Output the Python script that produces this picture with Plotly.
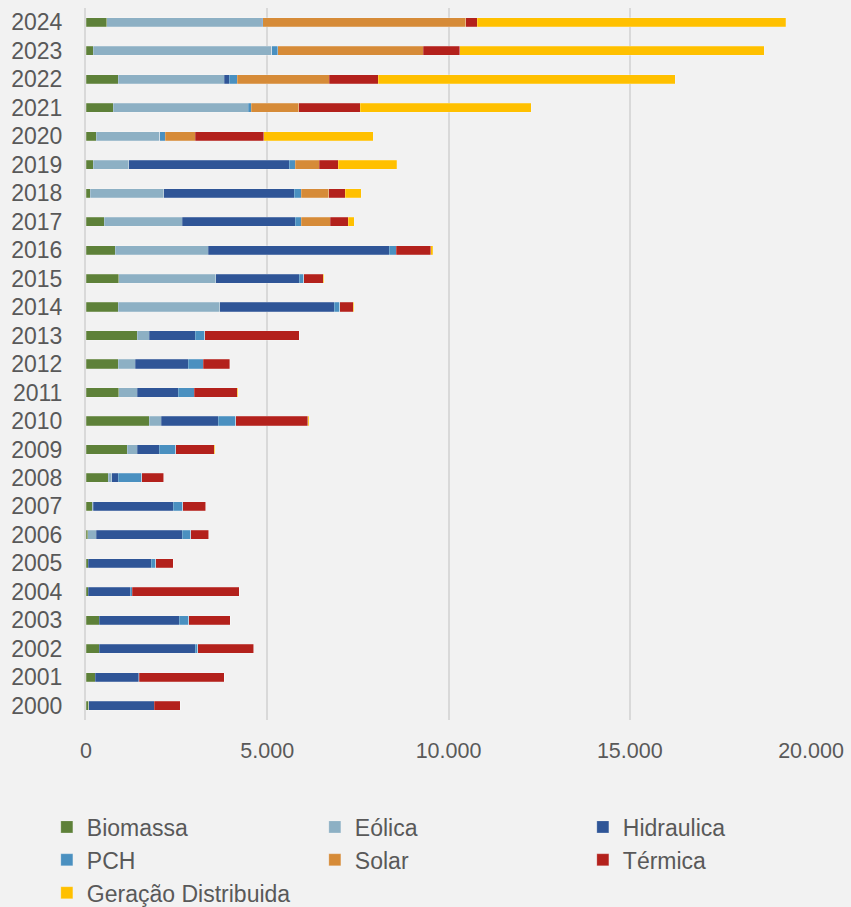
import plotly.graph_objects as go

years = [str(y) for y in range(2000, 2025)]

biomassa = [74, 257, 359, 359, 64, 64, 55, 175, 607, 1140, 1738, 910, 892, 1416, 892, 910, 800, 497, 120, 202, 285, 754, 892, 200, 570]
eolica = [0, 0, 0, 0, 0, 0, 221, 25, 101, 276, 331, 497, 469, 322, 2795, 2676, 2566, 2160, 2023, 984, 1756, 3724, 2915, 4930, 4270]
hidraulica = [1811, 1196, 2657, 2216, 1150, 1729, 2381, 2207, 184, 598, 1582, 1140, 1462, 1269, 3164, 2299, 4993, 3109, 3595, 4414, 0, 0, 147, 0, 15]
pch = [0, 10, 64, 266, 55, 129, 230, 258, 644, 460, 478, 442, 405, 267, 147, 120, 202, 174, 193, 166, 148, 83, 212, 165, 25]
solar = [0, 0, 0, 0, 0, 0, 0, 0, 0, 0, 0, 0, 0, 0, 0, 0, 0, 791, 772, 662, 818, 1306, 2547, 4010, 5590]
termica = [708, 2354, 1545, 1141, 2952, 487, 497, 643, 607, 1066, 1995, 1186, 744, 2602, 377, 533, 947, 506, 442, 524, 1903, 1701, 1351, 1000, 320]
geracao_dist = [0, 0, 0, 0, 0, 0, 0, 0, 0, 10, 15, 10, 10, 10, 10, 15, 55, 156, 450, 1618, 3016, 4708, 8194, 8405, 8515]

series = [
    ("Biomassa", biomassa, "#5E8139"),
    ("Eólica", eolica, "#8DB0C4"),
    ("Hidraulica", hidraulica, "#2F5597"),
    ("PCH", pch, "#4A90C0"),
    ("Solar", solar, "#D68B38"),
    ("Térmica", termica, "#B3211C"),
    ("Geração Distribuida", geracao_dist, "#FFC000"),
]

FONT = "Liberation Sans, Arial, sans-serif"
TXT = "#595959"
BG = "#F2F2F2"

fig = go.Figure()
for name, vals, col in series:
    fig.add_trace(go.Bar(
        y=years, x=vals, name=name, orientation="h",
        marker=dict(color=col, line=dict(width=0.6, color="rgba(255,255,255,0.35)")),
    ))

fig.update_layout(
    width=851, height=907,
    barmode="stack", bargap=0.68,
    paper_bgcolor=BG, plot_bgcolor=BG,
    margin=dict(l=86, r=40, t=8, b=187, autoexpand=False),
    font=dict(family=FONT, color=TXT, size=22),
    legend=dict(
        orientation="h", x=-0.054, xanchor="left", y=-0.12, yanchor="top",
        entrywidth=223, entrywidthmode="pixels",
        font=dict(family=FONT, size=23, color=TXT),
        bgcolor="rgba(0,0,0,0)", tracegroupgap=0, itemwidth=30,
        traceorder="normal",
    ),
    showlegend=True,
)
fig.update_xaxes(
    range=[0, 20000], tickvals=[0, 5000, 10000, 15000, 20000],
    ticktext=["0", "5.000", "10.000", "15.000", "20.000"],
    showgrid=True, gridcolor="#D9D9D9", gridwidth=1.5,
    zeroline=False, ticks="", ticklabelstandoff=15,
    tickfont=dict(family=FONT, size=21.5, color=TXT),
)
fig.update_yaxes(
    type="category", categoryorder="array", categoryarray=years,
    showline=True, linecolor="#D9D9D9", linewidth=2,
    showgrid=False, ticks="", ticklabelstandoff=17,
    tickfont=dict(family=FONT, size=23, color=TXT),
)

fig.write_html("out.html")
